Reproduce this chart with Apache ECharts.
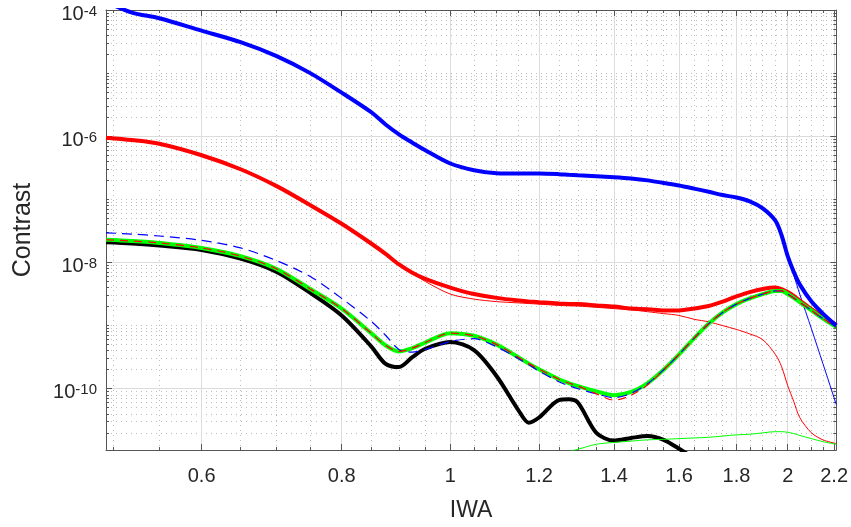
<!DOCTYPE html>
<html>
<head>
<meta charset="utf-8">
<title>Contrast vs IWA</title>
<script src="https://cdn.jsdelivr.net/npm/echarts@6/dist/echarts.min.js"></script>
<style>
  html, body { margin: 0; padding: 0; background: #fff; }
  #main { width: 851px; height: 527px; }
</style>
</head>
<body>
<div id="main"></div>
<script>
var iwa = [0.493, 0.52, 0.55, 0.6, 0.65, 0.7, 0.75, 0.8, 0.85, 0.875, 0.9, 0.925, 0.95, 1.0,
  1.05, 1.1, 1.15, 1.175, 1.2, 1.25, 1.275, 1.3, 1.35, 1.4, 1.45, 1.5, 1.55, 1.6, 1.65,
  1.7, 1.75, 1.8, 1.85, 1.9, 1.95, 1.975, 2.0, 2.025, 2.05, 2.1, 2.15, 2.21];

// contrast values, one per iwa point (null = not drawn)
var blueThick = [1.35e-4, 9.1e-5, 7.4e-5, 4.7e-5, 3.1e-5, 1.86e-5, 1.0e-5, 4.9e-6, 2.4e-6, 1.55e-6,
  1.07e-6, 7.9e-7, 6.0e-7, 3.7e-7, 2.9e-7, 2.6e-7, 2.57e-7, 2.57e-7, 2.57e-7, 2.51e-7, 2.45e-7,
  2.4e-7, 2.32e-7, 2.24e-7, 2.14e-7, 2.0e-7, 1.82e-7, 1.66e-7, 1.48e-7, 1.32e-7, 1.17e-7,
  1.07e-7, 9.3e-8, 7.2e-8, 4.6e-8, 2.7e-8, 1.26e-8, 7.1e-9, 4.5e-9, 2.4e-9, 1.55e-9, 1.0e-9];
var blueThin = [1.35e-4, 9.1e-5, 7.4e-5, 4.7e-5, 3.1e-5, 1.86e-5, 1.0e-5, 4.9e-6, 2.4e-6, 1.55e-6,
  1.07e-6, 7.9e-7, 6.0e-7, 3.7e-7, 2.9e-7, 2.6e-7, 2.57e-7, 2.57e-7, 2.57e-7, 2.51e-7, 2.45e-7,
  2.4e-7, 2.32e-7, 2.24e-7, 2.14e-7, 2.0e-7, 1.82e-7, 1.66e-7, 1.48e-7, 1.32e-7, 1.17e-7,
  1.07e-7, 9.3e-8, 7.2e-8, 4.6e-8, 2.7e-8, 1.17e-8, 6.3e-9, 3.16e-9, 8.9e-10, 2.5e-10, 5.6e-11];
var blueDash = [2.95e-8, 2.82e-8, 2.63e-8, 2.24e-8, 1.7e-8, 1.07e-8, 6.0e-9, 2.7e-9, 1.17e-9, 7.1e-10,
  4.2e-10, 3.8e-10, 4.2e-10, 5.6e-10, 6.2e-10, 4.6e-10, 3.0e-10, 2.4e-10, 1.9e-10, 1.29e-10, 1.12e-10,
  1.0e-10, 8.3e-11, 7.2e-11, 8.5e-11, 1.2e-10, 2.0e-10, 3.5e-10, 6.3e-10, 1.07e-9, 1.62e-9,
  2.19e-9, 2.7e-9, 3.16e-9, 3.55e-9, 3.55e-9, 3.16e-9, 2.75e-9, 2.35e-9, 1.74e-9, 1.29e-9, 9.5e-10];
var redThick = [9.5e-7, 8.7e-7, 7.6e-7, 5.0e-7, 3.0e-7, 1.62e-7, 8.1e-8, 4.1e-8, 2.0e-8, 1.38e-8,
  9.3e-9, 6.9e-9, 5.5e-9, 4.0e-9, 3.16e-9, 2.75e-9, 2.5e-9, 2.42e-9, 2.35e-9, 2.24e-9, 2.2e-9,
  2.19e-9, 2.09e-9, 2.0e-9, 1.86e-9, 1.82e-9, 1.74e-9, 1.74e-9, 1.86e-9, 2.04e-9, 2.4e-9,
  2.9e-9, 3.4e-9, 3.8e-9, 4.0e-9, 3.8e-9, 3.4e-9, 2.95e-9, 2.5e-9, 1.82e-9, 1.38e-9, 1.02e-9];
var redThin = [9.5e-7, 8.7e-7, 7.6e-7, 5.0e-7, 3.0e-7, 1.62e-7, 8.1e-8, 4.1e-8, 2.0e-8, 1.38e-8,
  9.3e-9, 6.9e-9, 5.0e-9, 3.16e-9, 2.63e-9, 2.4e-9, 2.29e-9, 2.24e-9, 2.19e-9, 2.09e-9, 2.06e-9,
  2.04e-9, 1.95e-9, 1.86e-9, 1.78e-9, 1.66e-9, 1.55e-9, 1.45e-9, 1.26e-9, 1.15e-9, 1.0e-9,
  8.7e-10, 7.4e-10, 6.0e-10, 3.5e-10, 2.24e-10, 1.12e-10, 6.3e-11, 3.5e-11, 2.0e-11, 1.55e-11, 1.35e-11];
var redDash = [2.29e-8, 2.19e-8, 2.04e-8, 1.7e-8, 1.26e-8, 7.9e-9, 3.8e-9, 1.86e-9, 7.6e-10, 4.9e-10,
  3.9e-10, 4.4e-10, 5.4e-10, 7.6e-10, 6.9e-10, 5.0e-10, 3.16e-10, 2.5e-10, 2.04e-10, 1.41e-10, 1.23e-10,
  1.1e-10, 8.3e-11, 6.6e-11, 7.9e-11, 1.15e-10, 2.0e-10, 3.5e-10, 6.3e-10, 1.07e-9, 1.62e-9,
  2.19e-9, 2.7e-9, 3.16e-9, 3.55e-9, 3.55e-9, 3.16e-9, 2.75e-9, 2.35e-9, 1.74e-9, 1.29e-9, 9.5e-10];
var greenThick = [2.29e-8, 2.19e-8, 2.04e-8, 1.7e-8, 1.26e-8, 7.9e-9, 3.8e-9, 1.86e-9, 7.6e-10, 4.9e-10,
  3.9e-10, 4.4e-10, 5.4e-10, 7.6e-10, 6.9e-10, 5.0e-10, 3.16e-10, 2.5e-10, 2.04e-10, 1.41e-10, 1.23e-10,
  1.1e-10, 9.1e-11, 7.9e-11, 8.9e-11, 1.23e-10, 2.0e-10, 3.5e-10, 6.3e-10, 1.07e-9, 1.62e-9,
  2.19e-9, 2.7e-9, 3.16e-9, 3.55e-9, 3.55e-9, 3.16e-9, 2.75e-9, 2.35e-9, 1.74e-9, 1.29e-9, 9.5e-10];
var greenThin = [null, null, null, null, null, null, null, null, null, null,
  null, null, null, null, null, null, null, null, null, 7.9e-12, 1.0e-11,
  1.1e-11, 1.32e-11, 1.41e-11, 1.48e-11, 1.55e-11, 1.58e-11, 1.62e-11, 1.66e-11, 1.7e-11, 1.78e-11,
  1.86e-11, 1.9e-11, 2.0e-11, 2.09e-11, 2.09e-11, 2.04e-11, 1.95e-11, 1.82e-11, 1.62e-11, 1.45e-11, 1.32e-11];
var blackThick = [2.09e-8, 2.0e-8, 1.86e-8, 1.58e-8, 1.15e-8, 7.1e-9, 3.3e-9, 1.45e-9, 4.7e-10, 2.5e-10,
  2.2e-10, 3.16e-10, 4.3e-10, 5.5e-10, 4.1e-10, 1.58e-10, 4.6e-11, 2.9e-11, 3.5e-11, 6.6e-11, 6.8e-11,
  6.0e-11, 2.0e-11, 1.51e-11, 1.66e-11, 1.78e-11, 1.55e-11, 1.12e-11, 7.9e-12, null, null,
  null, null, null, null, null, null, null, null, null, null, null];

// axis ranges and tick values
var xMin = 0.493, xMax = 2.21;
var yMin = 1.07e-11, yMax = 1.0e-4;
var xMajor = [0.6, 0.8, 1, 1.2, 1.4, 1.6, 1.8, 2, 2.2];
var xMinor = [0.5, 0.55, 0.65, 0.7, 0.75, 0.85, 0.9, 0.95, 1.05, 1.1, 1.15, 1.25, 1.3, 1.35,
  1.45, 1.5, 1.55, 1.65, 1.7, 1.75, 1.85, 1.9, 1.95, 2.05, 2.1, 2.15];
var yMajor = [1e-10, 1e-8, 1e-6, 1e-4];
var yMinor = [];
for (var e = -11; e <= -5; e++) {
  for (var k = 1; k <= 9; k++) {
    if (k === 1 && e % 2 === 0) continue; // major line there
    yMinor.push(k * Math.pow(10, e));
  }
}

var frameColor = '#555555';
var textColor = '#262626';

function pairs(ys) {
  var out = [];
  for (var i = 0; i < iwa.length; i++) {
    if (ys[i] != null) out.push([iwa[i], ys[i]]);
  }
  return out;
}

function line(name, ys, color, width, dash) {
  return {
    name: name,
    type: 'line',
    data: pairs(ys),
    symbol: 'none',
    smooth: 0.3,
    clip: true,
    lineStyle: { color: color, width: width, type: dash || 'solid' }
  };
}

// one axis per tick set: major (solid grid), minor (dotted grid), and copies on the far side
function xAxisOf(position, ticks, tickLen, showLine, grid, extra) {
  var ax = {
    type: 'log', position: position, min: xMin, max: xMax,
    axisLine: { show: showLine, lineStyle: { color: frameColor, width: 1 } },
    axisTick: { show: true, inside: true, length: tickLen, customValues: ticks,
      lineStyle: { color: frameColor } },
    axisLabel: { show: false },
    splitLine: grid ? { show: true, lineStyle: grid } : { show: false }
  };
  return Object.assign(ax, extra || {});
}
function yAxisOf(position, ticks, tickLen, showLine, grid, extra) {
  var ax = {
    type: 'log', position: position, min: yMin, max: yMax,
    axisLine: { show: showLine, lineStyle: { color: frameColor, width: 1 } },
    axisTick: { show: true, inside: true, length: tickLen, customValues: ticks,
      lineStyle: { color: frameColor } },
    axisLabel: { show: false },
    splitLine: grid ? { show: true, lineStyle: grid } : { show: false }
  };
  return Object.assign(ax, extra || {});
}

var majorGrid = { color: '#dcdcdc', width: 1, type: 'solid' };
var minorGrid = { color: '#bcbcbc', width: 1, type: [1, 4] };

var option = {
  backgroundColor: '#ffffff',
  animation: false,
  grid: { left: 106, right: 11, top: 10, bottom: 75 },
  xAxis: [
    xAxisOf('bottom', xMajor, 6, true, majorGrid, {
      name: 'IWA', nameLocation: 'middle', nameGap: 49,
      nameTextStyle: { fontSize: 23, color: textColor, fontFamily: 'Liberation Sans' },
      axisLabel: {
        show: true, customValues: xMajor, margin: 16, fontSize: 20, color: textColor,
        fontFamily: 'Liberation Sans',
        formatter: function (v) { return String(Math.round(v * 10) / 10); }
      }
    }),
    xAxisOf('bottom', xMinor, 3, false, minorGrid),
    xAxisOf('top', xMajor, 6, true, null),
    xAxisOf('top', xMinor, 3, false, null)
  ],
  yAxis: [
    yAxisOf('left', yMajor, 6, true, majorGrid, {
      name: 'Contrast', nameLocation: 'middle', nameGap: 70, nameRotate: 90,
      nameTextStyle: { fontSize: 25, color: textColor, fontFamily: 'Liberation Sans' },
      axisLabel: {
        show: true, customValues: yMajor, margin: 9, padding: [8, 0, 0, 0],
        fontFamily: 'Liberation Sans',
        formatter: function (v) {
          var p = Math.round(Math.log(v) / Math.LN10);
          return '{b|10}{s|' + p + '}';
        },
        rich: {
          b: { fontSize: 20, lineHeight: 20, color: textColor, verticalAlign: 'bottom',
            fontFamily: 'Liberation Sans' },
          s: { fontSize: 15, lineHeight: 15, color: textColor, verticalAlign: 'top',
            padding: [0, 0, 9, 0], fontFamily: 'Liberation Sans' }
        }
      }
    }),
    yAxisOf('left', yMinor, 3, false, minorGrid),
    yAxisOf('right', yMajor, 6, true, null),
    yAxisOf('right', yMinor, 3, false, null)
  ],
  series: [
    line('black', blackThick, '#000000', 4),
    line('red thin', redThin, '#ff0000', 1),
    line('blue thin', blueThin, '#0000ff', 1),
    line('green thin', greenThin, '#00ff00', 1),
    line('red', redThick, '#ff0000', 4),
    line('green', greenThick, '#00ff00', 4),
    line('blue', blueThick, '#0000ff', 4),
    line('blue dashed', blueDash, '#0000ff', 1.2, [10, 6]),
    line('red dashed', redDash, '#ff0000', 1.2, [8, 6])
  ]
};

var chart = echarts.init(document.getElementById('main'));
chart.setOption(option);
</script>
</body>
</html>
